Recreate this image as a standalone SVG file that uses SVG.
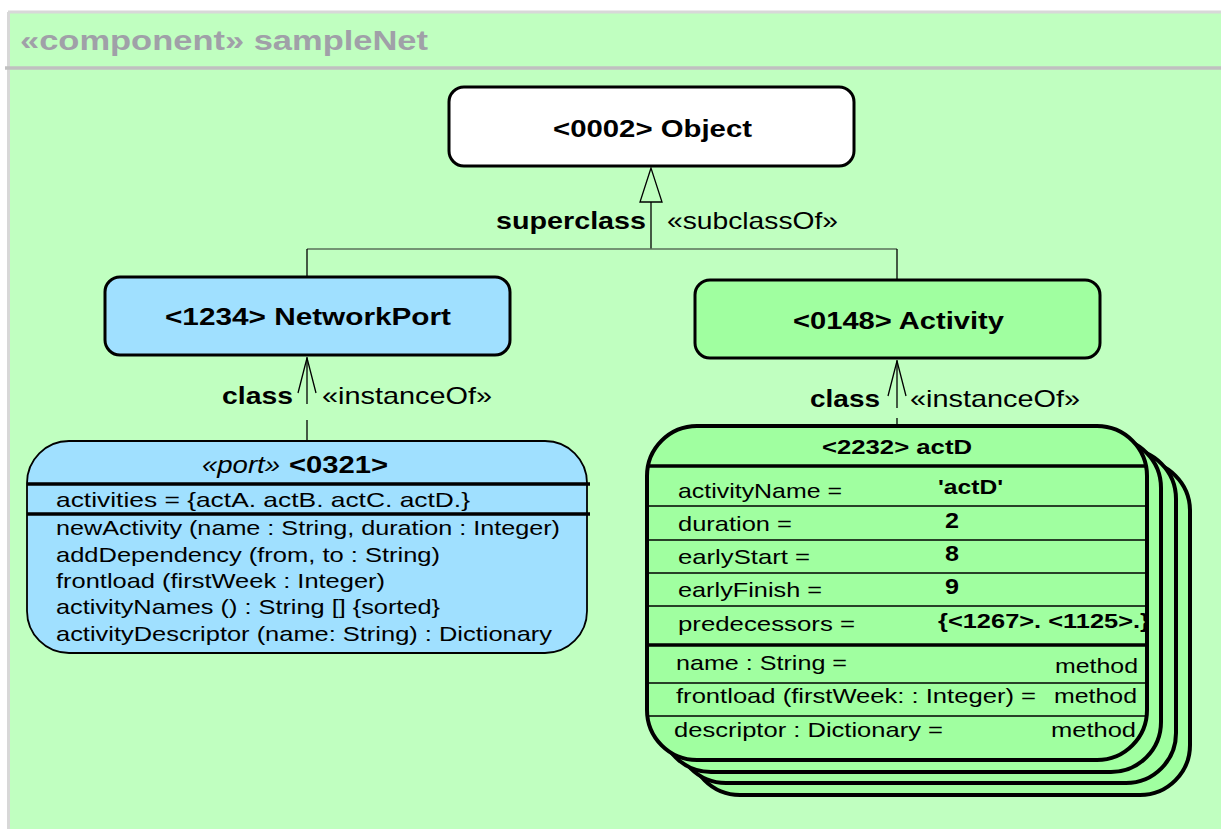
<svg xmlns="http://www.w3.org/2000/svg" width="1221" height="829" viewBox="0 0 1221 829">
  <style>
    text { font-family: "Liberation Sans", Arial, sans-serif; fill: #000; }
    .b { font-weight: bold; }
    .title { font-size: 28px; font-weight: bold; fill: #A0A0A8; }
    .cls { font-size: 24px; font-weight: bold; }
    .lbl { font-size: 24px; }
    .row { font-size: 21px; }
    .box { stroke: #000; stroke-width: 3; }
    .card { fill: #A0FFA0; stroke: #000; stroke-width: 4; }
    .thick { stroke: #000; stroke-width: 3.5; }
    .thin { stroke: #000; stroke-width: 1.5; }
    .conn { stroke: #000; stroke-width: 1.3; fill: none; }
  </style>

  <!-- component frame -->
  <g id="frame">
    <rect x="0" y="0" width="1221" height="829" fill="#FFFFFF"/>
    <rect x="8" y="12" width="1213" height="817" fill="#C0FFC0"/>
    <line x1="8" y1="12" x2="1221" y2="12" stroke="#D8D8D8" stroke-width="3"/>
    <line x1="8.5" y1="12" x2="8.5" y2="829" stroke="#D8D8D8" stroke-width="3"/>
    <line x1="5" y1="68" x2="1221" y2="68" stroke="#C0C0C0" stroke-width="3.5"/>
    <text class="title" x="20" y="50" textLength="408" lengthAdjust="spacingAndGlyphs">«component» sampleNet</text>
  </g>

  <!-- connectors -->
  <g id="connectors">
    <!-- generalization to Object -->
    <polygon points="651,168 640,202 662,202" fill="#C0FFC0" stroke="#000" stroke-width="1.3"/>
    <line class="conn" x1="651" y1="202" x2="651" y2="249"/>
    <line x1="307" y1="249" x2="897" y2="249" stroke="#5A705A" stroke-width="1.5"/>
    <line class="conn" x1="307" y1="249" x2="307" y2="277"/>
    <line class="conn" x1="897" y1="249" x2="897" y2="280"/>
    <text class="cls" x="496" y="229" textLength="150" lengthAdjust="spacingAndGlyphs">superclass</text>
    <text class="lbl" x="667" y="229" textLength="171" lengthAdjust="spacingAndGlyphs">«subclassOf»</text>

    <!-- instanceOf NetworkPort -->
    <line class="conn" x1="307" y1="357" x2="307" y2="404"/>
    <line class="conn" x1="307" y1="420" x2="307" y2="441"/>
    <polyline class="conn" points="298,393 307,358 316,393"/>
    <text class="cls" x="222" y="404" textLength="71" lengthAdjust="spacingAndGlyphs">class</text>
    <text class="lbl" x="322" y="404" textLength="170" lengthAdjust="spacingAndGlyphs">«instanceOf»</text>

    <!-- instanceOf Activity -->
    <line class="conn" x1="897" y1="360" x2="897" y2="408"/>
    <line class="conn" x1="897" y1="418" x2="897" y2="426"/>
    <polyline class="conn" points="888,396 897,361 906,396"/>
    <text class="cls" x="810" y="407" textLength="70" lengthAdjust="spacingAndGlyphs">class</text>
    <text class="lbl" x="910" y="407" textLength="170" lengthAdjust="spacingAndGlyphs">«instanceOf»</text>
  </g>

  <!-- classes -->
  <g id="object">
    <rect class="box" x="449" y="87" width="405" height="79" rx="15" fill="#FFFFFF"/>
    <text class="cls" x="553" y="137" textLength="199" lengthAdjust="spacingAndGlyphs">&lt;0002&gt; Object</text>
  </g>

  <g id="networkPort">
    <rect class="box" x="105" y="277" width="405" height="78" rx="15" fill="#A0E0FF"/>
    <text class="cls" x="165" y="325" textLength="286" lengthAdjust="spacingAndGlyphs">&lt;1234&gt; NetworkPort</text>
  </g>

  <g id="activity">
    <rect class="box" x="695" y="280" width="405" height="78" rx="15" fill="#A0FFA0"/>
    <text class="cls" x="793" y="329" textLength="211" lengthAdjust="spacingAndGlyphs">&lt;0148&gt; Activity</text>
  </g>

  <!-- port instance -->
  <g id="port0321">
    <rect x="27" y="441" width="560" height="212" rx="42" fill="#A0E0FF" stroke="#000" stroke-width="1.8"/>
    <text x="202" y="473" font-size="23" font-style="italic" textLength="78" lengthAdjust="spacingAndGlyphs">«port»</text>
    <text x="289" y="473" font-size="23" class="b" textLength="99" lengthAdjust="spacingAndGlyphs">&lt;0321&gt;</text>
    <line class="thick" x1="27" y1="484" x2="590" y2="484"/>
    <text class="row" x="56" y="507" textLength="414" lengthAdjust="spacingAndGlyphs">activities = {actA. actB. actC. actD.}</text>
    <line class="thick" x1="27" y1="514" x2="590" y2="514"/>
    <text class="row" x="56" y="535" textLength="504" lengthAdjust="spacingAndGlyphs">newActivity (name : String, duration : Integer)</text>
    <text class="row" x="56" y="562" textLength="384" lengthAdjust="spacingAndGlyphs">addDependency (from, to : String)</text>
    <text class="row" x="56" y="588" textLength="329" lengthAdjust="spacingAndGlyphs">frontload (firstWeek : Integer)</text>
    <text class="row" x="56" y="614" textLength="384" lengthAdjust="spacingAndGlyphs">activityNames () : String [] {sorted}</text>
    <text class="row" x="56" y="641" textLength="496" lengthAdjust="spacingAndGlyphs">activityDescriptor (name: String) : Dictionary</text>
  </g>

  <!-- activity instances (stacked) -->
  <g id="actD">
    <rect class="card" x="690" y="461" width="500" height="334" rx="50"/>
    <rect class="card" x="676" y="449" width="500" height="334" rx="50"/>
    <rect class="card" x="661" y="438" width="500" height="334" rx="50"/>
    <rect class="card" x="647" y="426" width="500" height="334" rx="50"/>
    <clipPath id="frontCard">
      <rect x="647" y="426" width="500" height="334" rx="50"/>
    </clipPath>
    <text x="822" y="454" font-size="20" class="b" textLength="150" lengthAdjust="spacingAndGlyphs">&lt;2232&gt; actD</text>
    <line class="thick" x1="647" y1="466" x2="1147" y2="466"/>
    <line class="thin" x1="647" y1="506" x2="1147" y2="506"/>
    <line class="thin" x1="647" y1="540" x2="1147" y2="540"/>
    <line class="thin" x1="647" y1="573" x2="1147" y2="573"/>
    <line class="thin" x1="647" y1="606" x2="1147" y2="606"/>
    <line class="thick" x1="647" y1="645" x2="1147" y2="645"/>
    <line class="thin" x1="647" y1="683" x2="1147" y2="683"/>
    <line class="thin" x1="647" y1="716" x2="1147" y2="716"/>
    <g clip-path="url(#frontCard)">
      <text class="row" x="678" y="498" textLength="164" lengthAdjust="spacingAndGlyphs">activityName =</text>
      <text class="row" x="678" y="531" textLength="114" lengthAdjust="spacingAndGlyphs">duration =</text>
      <text class="row" x="678" y="564" textLength="132" lengthAdjust="spacingAndGlyphs">earlyStart =</text>
      <text class="row" x="678" y="597" textLength="144" lengthAdjust="spacingAndGlyphs">earlyFinish =</text>
      <text class="row" x="678" y="631" textLength="177" lengthAdjust="spacingAndGlyphs">predecessors =</text>
      <text class="row b" x="938" y="494" textLength="65" lengthAdjust="spacingAndGlyphs">'actD'</text>
      <text class="b" font-size="22" x="945" y="528" textLength="14" lengthAdjust="spacingAndGlyphs">2</text>
      <text class="b" font-size="22" x="945" y="561" textLength="14" lengthAdjust="spacingAndGlyphs">8</text>
      <text class="b" font-size="22" x="945" y="594" textLength="14" lengthAdjust="spacingAndGlyphs">9</text>
      <text class="row b" x="938" y="628" textLength="212" lengthAdjust="spacingAndGlyphs">{&lt;1267&gt;. &lt;1125&gt;.}</text>
      <text class="row" x="676" y="670" textLength="171" lengthAdjust="spacingAndGlyphs">name : String =</text>
      <text class="row" x="1055" y="673" textLength="83" lengthAdjust="spacingAndGlyphs">method</text>
      <text class="row" x="676" y="703" textLength="360" lengthAdjust="spacingAndGlyphs">frontload (firstWeek: : Integer) =</text>
      <text class="row" x="1054" y="703" textLength="83" lengthAdjust="spacingAndGlyphs">method</text>
      <text class="row" x="674" y="737" textLength="269" lengthAdjust="spacingAndGlyphs">descriptor : Dictionary =</text>
      <text class="row" x="1051" y="737" textLength="85" lengthAdjust="spacingAndGlyphs">method</text>
    </g>
  </g>
</svg>
